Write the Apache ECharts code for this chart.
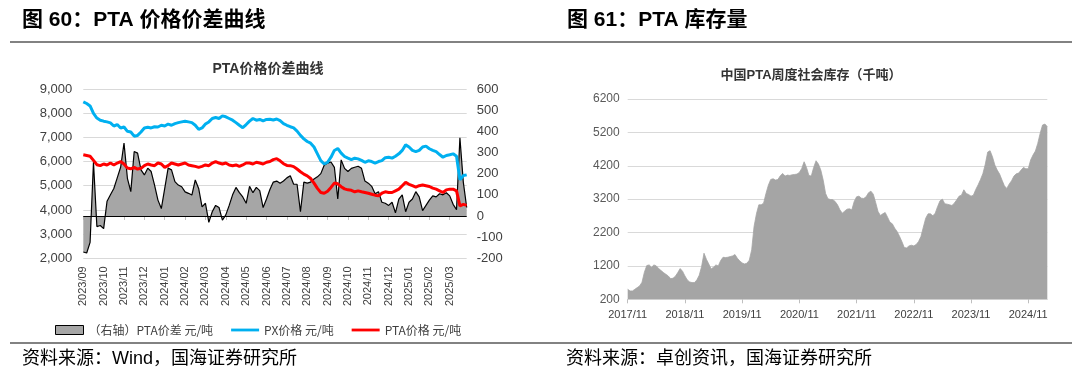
<!DOCTYPE html>
<html>
<head>
<meta charset="utf-8">
<script src="https://cdn.jsdelivr.net/npm/echarts@6/dist/echarts.min.js"></script>
<style>
html,body{margin:0;padding:0;background:#ffffff;}
#c{width:1080px;height:378px;}
</style>
</head>
<body>
<div id="c"></div>
<script>
// ---------- Left chart (图 60) ----------
const leftMonths = ['2023/09','2023/10','2023/11','2023/12','2024/01','2024/02','2024/03','2024/04','2024/05','2024/06','2024/07','2024/08','2024/09','2024/10','2024/11','2024/12','2025/01','2025/02','2025/03'];
const subDays = ['01','06','11','16','21','26'];

const pxPrice = [
  8470, 8400, 8300, 7990, 7800, 7710,
  7670, 7640, 7600, 7470, 7530, 7390,
  7430, 7250, 7220, 7050, 7080, 7220,
  7390, 7420, 7390, 7440, 7430, 7500,
  7470, 7550, 7500, 7570, 7610, 7640,
  7670, 7640, 7610, 7500, 7330, 7390,
  7550, 7640, 7780, 7820, 7780, 7890,
  7850, 7780, 7710, 7610, 7500, 7400,
  7530, 7670, 7780, 7710, 7740, 7680,
  7740, 7750, 7720, 7760, 7690, 7570,
  7500, 7440, 7390, 7260, 7080, 6940,
  6830, 6760, 6600, 6320, 6040, 5900,
  5970, 6180, 6460, 6540, 6350, 6210,
  6140, 6080, 6140, 6110, 6050, 5970,
  6030, 6000, 5940, 6000, 6040, 6160,
  6180, 6140, 6220, 6320, 6460, 6690,
  6600, 6460, 6410, 6460, 6600, 6640,
  6530, 6460, 6410, 6290, 6180, 6250,
  6280, 6320, 6220, 5250, 5420, 5450
];

const ptaPrice = [
  6280, 6250, 6220, 6050, 5870, 5830,
  5900, 5860, 5940, 5860, 5940, 6000,
  5900, 5730, 5700, 5760, 5690, 5720,
  5830, 5900, 5860, 5830, 5940, 5900,
  5760, 5830, 5940, 5900, 5860, 5900,
  5940, 5860, 5830, 5800, 5760, 5800,
  5860, 5830, 5940, 6000, 5940, 5900,
  5940, 5860, 5830, 5860, 5800, 5860,
  5940, 5940, 5900, 5970, 5940, 5900,
  5970, 6000, 6080, 6120, 6030, 5910,
  5840, 5830, 5790, 5690, 5580, 5480,
  5410, 5300, 5110, 4890, 4720, 4690,
  4770, 4930, 5110, 5080, 4960, 4870,
  4830, 4810, 4750, 4790, 4750, 4720,
  4690, 4650, 4610, 4580, 4690, 4750,
  4720, 4720, 4790, 4860, 5000, 5140,
  5060, 5000, 4940, 5000, 5030, 5000,
  4970, 4900, 4860, 4790, 4720, 4830,
  4860, 4860, 4790, 4170, 4230, 4190
];

const ptaSpread = [
  -170, -175, -125, 255, -50, -45,
  -60, 70, 100, 130, 180, 230,
  345, 178, 115, 305, 297, 218,
  194, 226, 210, 146, 75, 35,
  130, 226, 218, 162, 146, 138,
  114, 107, 99, 170, 130, 43,
  60, -30, 20, 50, 40, -20,
  5, 50, 100, 135, 110, 90,
  60, 140, 110, 135, 120, 40,
  80, 125, 160, 165, 155, 165,
  180, 190, 150, 150, 20, 160,
  155, 160, 175, 185, 200, 240,
  250, 255, 230, 80, 265, 225,
  210, 225, 230, 235, 225, 165,
  155, 140, 105, 115, 65, 60,
  50, 65, 15, 80, 100, 20,
  65, 80, 115, 90, 25, 50,
  75, 95, 90, 105, 100, 110,
  95, 55, 30, 370, 160, 40
];

// ---------- Right chart (图 61) ----------
const inventoryStart = [2017, 11];
const rightYTicks = [200, 1200, 2200, 3200, 4200, 5200, 6200];
const inventory = [
  500, 450, 450, 500, 550, 600, 710, 1010, 1210, 1230, 1160, 1230,
  1200, 1120, 1060, 1000, 950, 900, 820, 830, 890, 1000, 1120, 1040,
  900, 780, 720, 700, 700, 780, 920, 1180, 1580, 1400, 1260, 1110,
  1160, 1230, 1200, 1360, 1460, 1450, 1460, 1480, 1500, 1540, 1430, 1350,
  1290, 1260, 1280, 1370, 1680, 2380, 2760, 3030, 3030, 3080, 3370, 3620,
  3790, 3810, 3770, 3790, 3900, 3970, 3890, 3920, 3910, 3930, 3940, 3950,
  4000, 4120, 4320, 4150, 3910, 3890, 4150, 4350, 4250, 4070, 3770, 3370,
  3210, 3190, 3185, 3130, 3030, 2880, 2780, 2840, 2900, 2910, 2880, 3130,
  3270, 3290, 3230, 3220, 3270, 3390, 3440, 3350, 3100, 2830, 2710, 2760,
  2800, 2660, 2510, 2460, 2330, 2230, 2090, 1930, 1750, 1740, 1800, 1820,
  1800, 1840, 1930, 2080, 2360, 2630, 2760, 2760, 2700, 2780, 2980, 3150,
  3200, 3060, 3050, 3030, 3010, 3080, 3180, 3290, 3320, 3480, 3370, 3340,
  3290, 3320, 3490, 3630, 3790, 3970, 4250, 4610, 4650, 4470, 4220, 4070,
  3950, 3770, 3600, 3520, 3650, 3750, 3890, 3960, 3980, 4070, 4150, 4110,
  4110, 4370, 4520, 4640, 4870, 5170, 5420, 5450, 5370
];

// ---------- categories ----------
const leftCats = [];
leftMonths.forEach(m => subDays.forEach(d => leftCats.push(m + '/' + d)));

const invCats = [];
(function () {
  let y = inventoryStart[0], m = inventoryStart[1];
  while (invCats.length < inventory.length) {
    const mm = (m < 10 ? '0' : '') + m;
    invCats.push(y + '/' + mm + '/01');
    if (invCats.length < inventory.length) invCats.push(y + '/' + mm + '/16');
    m++; if (m > 12) { m = 1; y++; }
  }
})();

const LAT = "'Liberation Sans','Noto Sans CJK SC',sans-serif";
const CJK = "'Noto Sans CJK SC','Liberation Sans',sans-serif";
const isMonthStart = (i, v) => v.endsWith('/01');
const isNovStart = (i, v) => v.endsWith('/11/01');
const comma = v => String(v).replace(/\B(?=(\d{3})+(?!\d))/g, ',');

const chart = echarts.init(document.getElementById('c'));
chart.setOption({
  animation: false,
  backgroundColor: '#ffffff',
  textStyle: { fontFamily: LAT },
  grid: [
    { left: 83.3, right: 613.3, top: 89, bottom: 119.7 },
    { left: 627.7, right: 32.7, top: 99, bottom: 78.7 }
  ],
  legend: {
    left: 50, top: 319,
    itemWidth: 28, itemHeight: 9, itemGap: 18,
    textStyle: { fontSize: 12, color: '#404040', fontFamily: CJK },
    data: [
      { name: '（右轴）PTA价差 元/吨', icon: 'rect', itemStyle: { color: '#a6a6a6', borderColor: '#000000', borderWidth: 1 } },
      { name: 'PX价格 元/吨', icon: 'path://M0,0H30V3H0Z', itemStyle: { color: '#00b0f0', borderWidth: 0 } },
      { name: 'PTA价格 元/吨', icon: 'path://M0,0H30V3H0Z', itemStyle: { color: '#ff0000', borderWidth: 0 } }
    ]
  },
  xAxis: [
    {
      gridIndex: 0, type: 'category', boundaryGap: false, data: leftCats,
      axisLine: { lineStyle: { color: '#d9d9d9', width: 1 } },
      axisTick: { interval: isMonthStart, length: 4, lineStyle: { color: '#bfbfbf' } },
      axisLabel: { interval: isMonthStart, rotate: 90, formatter: v => v.slice(0, 7), fontSize: 11, color: '#404040', margin: 8 },
      splitLine: { show: false }
    },
    {
      gridIndex: 1, type: 'category', boundaryGap: false, data: invCats,
      axisLine: { lineStyle: { color: '#d9d9d9', width: 1 } },
      axisTick: { interval: isNovStart, length: 4, lineStyle: { color: '#bfbfbf' } },
      axisLabel: { interval: isNovStart, formatter: v => v.slice(0, 7), fontSize: 11, color: '#404040', margin: 10 },
      splitLine: { show: false }
    }
  ],
  yAxis: [
    {
      gridIndex: 0, type: 'value', min: 2000, max: 9000, interval: 1000,
      axisLabel: { formatter: comma, fontSize: 13, color: '#404040', margin: 11 },
      axisLine: { show: false }, axisTick: { show: false },
      splitLine: { lineStyle: { color: '#d9d9d9', width: 1 } }
    },
    {
      gridIndex: 0, type: 'value', position: 'right', min: -200, max: 600, interval: 100,
      axisLabel: { fontSize: 13, color: '#404040', margin: 10 },
      axisLine: { show: false }, axisTick: { show: false }, splitLine: { show: false }
    },
    {
      gridIndex: 1, type: 'value', min: 200, max: 6200,
      axisLabel: { customValues: rightYTicks, formatter: v => String(v), fontSize: 12, color: '#595959', margin: 8 },
      axisTick: { show: false, customValues: rightYTicks },
      axisLine: { show: false },
      splitLine: { lineStyle: { color: '#d9d9d9', width: 1 } }
    }
  ],
  series: [
    {
      name: '（右轴）PTA价差 元/吨', type: 'line', xAxisIndex: 0, yAxisIndex: 1,
      data: ptaSpread, symbol: 'none', z: 2,
      lineStyle: { color: '#000000', width: 1.2 },
      itemStyle: { color: '#a6a6a6' },
      areaStyle: { color: '#a6a6a6', opacity: 1 },
      markLine: {
        silent: true, symbol: 'none', label: { show: false },
        lineStyle: { color: '#000000', width: 1.2, type: 'solid' },
        data: [{ yAxis: 0 }]
      }
    },
    {
      name: 'PX价格 元/吨', type: 'line', xAxisIndex: 0, yAxisIndex: 0,
      data: pxPrice, symbol: 'none', z: 3,
      lineStyle: { color: '#00b0f0', width: 3 },
      itemStyle: { color: '#00b0f0' }
    },
    {
      name: 'PTA价格 元/吨', type: 'line', xAxisIndex: 0, yAxisIndex: 0,
      data: ptaPrice, symbol: 'none', z: 4,
      lineStyle: { color: '#ff0000', width: 3 },
      itemStyle: { color: '#ff0000' }
    },
    {
      name: '中国PTA周度社会库存', type: 'line', xAxisIndex: 1, yAxisIndex: 2,
      data: inventory, symbol: 'none',
      lineStyle: { color: '#a5a5a5', width: 0.8 },
      itemStyle: { color: '#a5a5a5' },
      areaStyle: { color: '#a5a5a5', opacity: 1, origin: 'start' }
    }
  ],
  graphic: [
    { type: 'text', silent: true, style: { text: '图 60：PTA 价格价差曲线', x: 22, y: 20, align: 'left', verticalAlign: 'middle', font: 'bold 21px ' + LAT, fill: '#000000' } },
    { type: 'text', silent: true, style: { text: '图 61：PTA 库存量', x: 567, y: 20, align: 'left', verticalAlign: 'middle', font: 'bold 21px ' + LAT, fill: '#000000' } },
    { type: 'line', silent: true, shape: { x1: 10, y1: 42, x2: 1072, y2: 42 }, style: { stroke: '#595959', lineWidth: 1.5 } },
    { type: 'line', silent: true, shape: { x1: 10, y1: 343, x2: 1072, y2: 343 }, style: { stroke: '#595959', lineWidth: 1.5 } },
    { type: 'text', silent: true, style: { text: 'PTA价格价差曲线', x: 268, y: 69.5, align: 'center', verticalAlign: 'middle', font: 'bold 14px ' + LAT, fill: '#333333' } },
    { type: 'text', silent: true, style: { text: '中国PTA周度社会库存（千吨）', x: 811, y: 75.5, align: 'center', verticalAlign: 'middle', font: 'bold 13px ' + LAT, fill: '#333333' } },
    { type: 'text', silent: true, style: { text: '资料来源：Wind，国海证券研究所', x: 22, y: 359, align: 'left', verticalAlign: 'middle', font: '18px ' + LAT, fill: '#000000' } },
    { type: 'text', silent: true, style: { text: '资料来源：卓创资讯，国海证券研究所', x: 566, y: 359, align: 'left', verticalAlign: 'middle', font: '18px ' + LAT, fill: '#000000' } }
  ]
});
</script>
</body>
</html>
